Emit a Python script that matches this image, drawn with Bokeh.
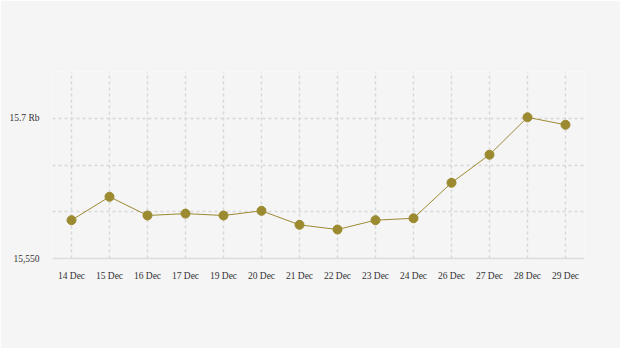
from bokeh.plotting import figure
from bokeh.models import Range1d, FixedTicker, ColumnDataSource
from bokeh.embed import file_html
from bokeh.resources import INLINE

dates = ["14 Dec", "15 Dec", "16 Dec", "17 Dec", "19 Dec", "20 Dec", "21 Dec",
         "22 Dec", "23 Dec", "24 Dec", "26 Dec", "27 Dec", "28 Dec", "29 Dec"]
prices = [15591, 15616, 15596, 15598, 15596, 15601, 15586,
          15581, 15591, 15593, 15631, 15661, 15701, 15693]
y_ticks = [15550, 15600, 15650, 15700, 15750]
y_tick_labels = {15550: "15,550", 15600: "", 15650: "", 15700: "15.7 Rb", 15750: ""}

BG = "#f5f5f5"
GOLD = "#9c8a30"
FONT = "Liberation Serif"

p = figure(x_range=dates, y_range=Range1d(15550, 15750), width=620, height=348,
           output_backend="svg", toolbar_location=None,
           min_border_left=52, min_border_right=36, min_border_top=71, min_border_bottom=90)
p.background_fill_color = BG
p.border_fill_color = BG
p.outline_line_color = None

src = ColumnDataSource(dict(x=dates, y=prices))
p.line("x", "y", source=src, line_color=GOLD, line_width=1)
p.scatter("x", "y", source=src, size=9, fill_color=GOLD, line_color=GOLD)

for g in (p.xgrid, p.ygrid):
    g.grid_line_color = "#d8d8d8"
    g.grid_line_dash = "3 3"
    g.grid_line_width = 1.5

p.yaxis.ticker = FixedTicker(ticks=y_ticks)
p.yaxis.major_label_overrides = y_tick_labels
p.yaxis.axis_line_color = None
p.yaxis.major_tick_line_color = None
p.yaxis.minor_tick_line_color = None
p.yaxis.major_label_standoff = 7

p.xaxis.axis_line_color = "#dddddd"
p.xaxis.axis_line_width = 1.5
p.xaxis.major_tick_line_color = None
p.xaxis.minor_tick_line_color = None
p.xaxis.major_label_standoff = 6

for ax in (p.xaxis, p.yaxis):
    ax.major_label_text_font = FONT
    ax.major_label_text_font_size = "9.5px"
    ax.major_label_text_color = "#333333"

open("out.html", "w").write(file_html(p, INLINE))
